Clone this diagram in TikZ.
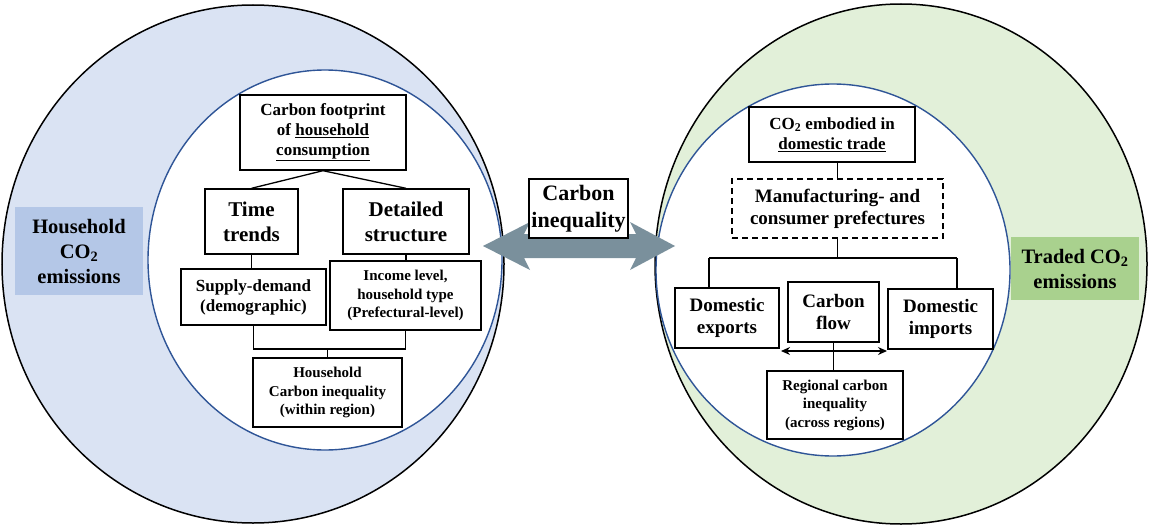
\documentclass[tikz,border=0pt]{standalone}
\usepackage{fontspec}
\setmainfont{Liberation Serif}
\usetikzlibrary{arrows.meta}
\definecolor{lbfill}{HTML}{DAE3F3}
\definecolor{lblab}{HTML}{B4C7E7}
\definecolor{rgfill}{HTML}{E2F0D9}
\definecolor{rglab}{HTML}{A9D18E}
\definecolor{ringblue}{HTML}{2F5597}
\definecolor{arrowc}{HTML}{7A909C}
\tikzset{
  box/.style={draw, line width=1.4pt, fill=white, align=center, inner sep=0pt, font=\bfseries},
  conn/.style={line width=1.3pt},
  fs15/.style={font=\bfseries\fontsize{15}{18.5}\selectfont},
  fs17/.style={font=\bfseries\fontsize{17}{20}\selectfont},
  fs19/.style={font=\bfseries\fontsize{19}{22}\selectfont},
  fs21/.style={font=\bfseries\fontsize{21}{25}\selectfont},
  fs22/.style={font=\bfseries\fontsize{22}{27}\selectfont},
  outer/.style={draw=black, line width=1.5pt},
  inner/.style={draw=ringblue, fill=white, line width=1.4pt},
}
\begin{document}
\begin{tikzpicture}[x=1pt,y=-1pt]
\useasboundingbox (0,0) rectangle (1149,527);
% left rings
\filldraw[outer, fill=lbfill] (253,264) ellipse [x radius=251pt, y radius=259pt];
\filldraw[inner] (325,260) ellipse [x radius=177pt, y radius=190pt];
% right rings
\filldraw[outer, fill=rgfill] (901,264) ellipse [x radius=246pt, y radius=260pt];
\filldraw[inner] (833,270) ellipse [x radius=177pt, y radius=186pt];
% central double arrow
\fill[arrowc] (483,246) -- (530,222) -- (524,234) -- (636,234) -- (630,222) -- (675,246)
  -- (630,270) -- (636,258) -- (524,258) -- (530,270) -- cycle;
% labels
\node[fill=lblab, minimum width=128pt, minimum height=88pt, align=center, inner sep=0pt, font=\bfseries\fontsize{20.5}{25}\selectfont] (hlab) at (79,251) {Household\\CO\textsubscript{2}\\emissions};
\node[fill=rglab, minimum width=128pt, minimum height=63pt, align=center, inner sep=0pt, font=\bfseries\fontsize{20.5}{25}\selectfont] (tlab) at (1075,268.5) {Traded CO\textsubscript{2}\\emissions};
% middle box
\node[box, fs22, minimum width=99pt, minimum height=59pt] (ci) at (578.5,208.5) {Carbon\\inequality};
% left boxes
\node[box, fs17, minimum width=166pt, minimum height=75pt] (fp) at (323,132.5) {Carbon footprint\\of \underline{household}\\\underline{consumption}};
\node[box, fs21, minimum width=93pt, minimum height=65pt] (tt) at (251.5,221.5) {Time\\trends};
\node[box, fs21, minimum width=126pt, minimum height=65pt] (ds) at (406,221.5) {Detailed\\structure};
\node[box, fs17, minimum width=145pt, minimum height=56pt] (sd) at (253.5,297) {Supply-demand\\(demographic)};
\node[box, fs15, minimum width=151pt, minimum height=69pt] (il) at (405.5,295.5) {Income level,\\household type\\(Prefectural-level)};
\node[box, fs15, minimum width=149pt, minimum height=69pt] (hci) at (327.5,392.5) {Household\\Carbon inequality\\(within region)};
\coordinate (lj) at (327.5,349);
\draw[conn] (fp.south) -- (tt.north);
\draw[conn] (fp.south) -- (ds.north);
\draw[conn] (tt.south) -- (tt.south |- sd.north);
\draw[conn] (ds.south) -- (ds.south |- il.north);
\draw[conn] (sd.south) |- (lj) -| (il.south);
\draw[conn] (hci.north) -- (lj);
% right boxes
\node[box, fs17, minimum width=166pt, minimum height=55pt] (emb) at (832,134.5) {CO\textsubscript{2} embodied in\\\underline{domestic trade}};
\node[box, fs19, dash pattern=on 6pt off 4pt, minimum width=211pt, minimum height=59pt] (mfg) at (837.5,208.5) {Manufacturing- and\\consumer prefectures};
\node[box, fs19, minimum width=104pt, minimum height=60pt] (dex) at (727,318) {Domestic\\exports};
\node[box, fs19, minimum width=91pt, minimum height=60pt] (cf) at (833.5,312) {Carbon\\flow};
\node[box, fs19, minimum width=105pt, minimum height=60pt] (dim) at (940.5,319) {Domestic\\imports};
\node[box, fs15, minimum width=136pt, minimum height=68pt] (reg) at (835,405) {Regional carbon\\inequality\\(across regions)};
\coordinate (rj) at (837.5,258);
\coordinate (rl) at (709,258);
\coordinate (rr) at (957,258);
\coordinate (fa) at (781,351);
\coordinate (fb) at (887,351);
\draw[conn] (mfg.north) -- (mfg.north |- emb.south);
\draw[conn] (mfg.south) -- (rj);
\draw[conn] (rl) -- (rr);
\draw[conn] (rl) -- (rl |- dex.north);
\draw[conn] (rr) -- (rr |- dim.north);
\draw[conn, {Stealth[length=9pt,width=8pt]}-{Stealth[length=9pt,width=8pt]}] (fa) -- (fb);
\draw[conn] (cf.south) -- (cf.south |- reg.north);
\end{tikzpicture}
\end{document}
